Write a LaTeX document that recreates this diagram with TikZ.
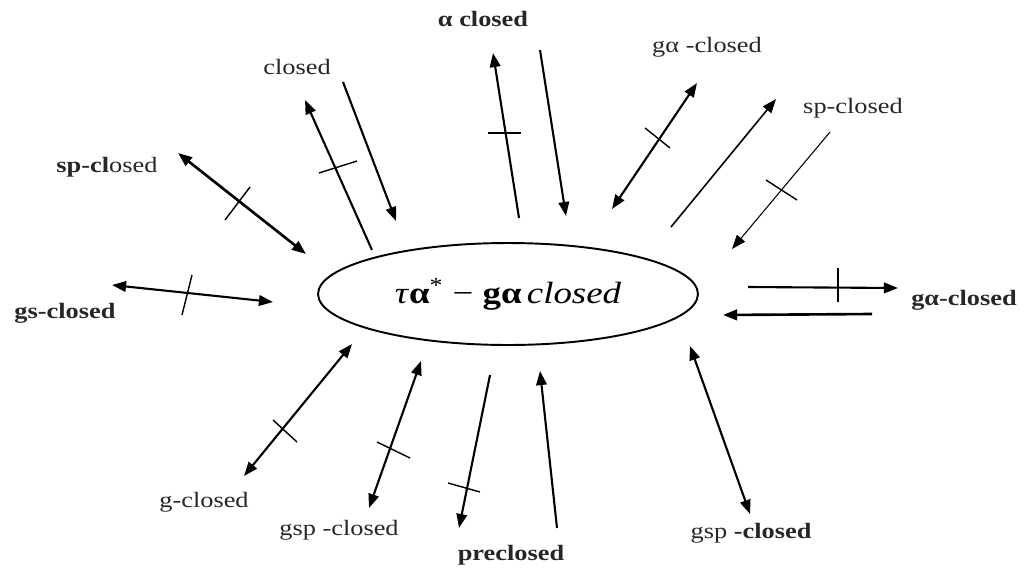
\documentclass[tikz,border=0pt]{standalone}
\usepackage{fontspec}
\setmainfont[FakeStretch=1.2]{Liberation Serif}
\usetikzlibrary{arrows.meta,shapes.geometric}
\tikzset{
  lab/.style={font=\fontsize{12.5}{14}\selectfont, inner sep=0pt, text=black!85},
  tip/.tip={Triangle[length=8pt,width=6pt]},
  conn/.style={line width=1.2pt, -tip},
  dconn/.style={line width=1.2pt, tip-tip},
  thinconn/.style={line width=0.6pt, -tip},
  tickmark/.style={line width=0.8pt},
}
\begin{document}
\begin{tikzpicture}[x=0.02cm,y=-0.02cm]
\useasboundingbox (0,0) rectangle (1026,572);
% central ellipse
\node (E) [ellipse, draw, line width=1.1pt, minimum width=7.6cm, minimum height=2.04cm, inner sep=0pt,
  font=\fontsize{17.5}{20}\selectfont] at (508,294)
  {{\itshape τ}\textbf{α}\textsuperscript{*}\ −\ \textbf{gα}\,\textit{closed}};
% labels
\node[lab] (spL) at (107,167) {\textbf{sp-cl}osed};
\node[lab] (gsL) at (65,313) {\textbf{gs-closed}};
\node[lab] (clL) at (297,67) {closed};
\node[lab] (alL) at (483,19) {\textbf{α closed}};
\node[lab] (gaT) at (707,47) {gα -closed};
\node[lab] (spR) at (853,108) {sp-closed};
\node[lab] (gaR) at (964,300) {\textbf{gα-closed}};
\node[lab] (gcL) at (204,502) {g-closed};
\node[lab] (gspL) at (339,530) {gsp -closed};
\node[lab] (prL) at (511,555) {\textbf{preclosed}};
\node[lab] (gspR) at (751,533) {gsp \textbf{-closed}};
% arrow end points
\coordinate (a1) at (178,153); \coordinate (b1) at (306,254);
\coordinate (a2) at (112,285); \coordinate (b2) at (273,302);
\coordinate (a3) at (372,250); \coordinate (b3) at (305,100);
\coordinate (a4) at (343,82);  \coordinate (b4) at (396,221);
\coordinate (a5) at (519,218); \coordinate (b5) at (493,53);
\coordinate (a6) at (540,50);  \coordinate (b6) at (566,216);
\coordinate (a7) at (612,209); \coordinate (b7) at (697,83);
\coordinate (a8) at (671,227); \coordinate (b8) at (776,99);
\coordinate (a9) at (830,132); \coordinate (b9) at (732,249);
\coordinate (a10) at (748,287); \coordinate (b10) at (898,288);
\coordinate (a11) at (872,314); \coordinate (b11) at (723,315);
\coordinate (a12) at (244,476); \coordinate (b12) at (352,344);
\coordinate (a13) at (369,508); \coordinate (b13) at (421,361);
\coordinate (a14) at (490,375); \coordinate (b14) at (459,528);
\coordinate (a15) at (557,528); \coordinate (b15) at (540,371);
\coordinate (a16) at (690,346); \coordinate (b16) at (750,514);
% arrows
\draw[dconn, line width=1.5pt] (a1) -- (b1);
\draw[dconn] (a2) -- (b2);
\draw[conn] (a3) -- (b3);
\draw[conn] (a4) -- (b4);
\draw[conn] (a5) -- (b5);
\draw[conn] (a6) -- (b6);
\draw[dconn] (a7) -- (b7);
\draw[conn, line width=0.9pt] (a8) -- (b8);
\draw[thinconn] (a9) -- (b9);
\draw[conn] (a10) -- (b10);
\draw[conn, line width=1.5pt] (a11) -- (b11);
\draw[dconn] (a12) -- (b12);
\draw[dconn] (a13) -- (b13);
\draw[conn] (a14) -- (b14);
\draw[conn] (a15) -- (b15);
\draw[dconn] (a16) -- (b16);
% tick marks
\draw[tickmark] (225,220) -- (250,187);
\draw[tickmark] (182,315) -- (192,275);
\draw[tickmark] (319,173) -- (357,161);
\draw[tickmark] (488,133) -- (521,133);
\draw[tickmark] (645,128) -- (670,148);
\draw[tickmark] (766,180) -- (797,200);
\draw[tickmark] (838,268) -- (838,302);
\draw[tickmark] (273,420) -- (297,442);
\draw[tickmark] (377,442) -- (410,458);
\draw[tickmark] (448,483) -- (480,492);
\end{tikzpicture}
\end{document}
